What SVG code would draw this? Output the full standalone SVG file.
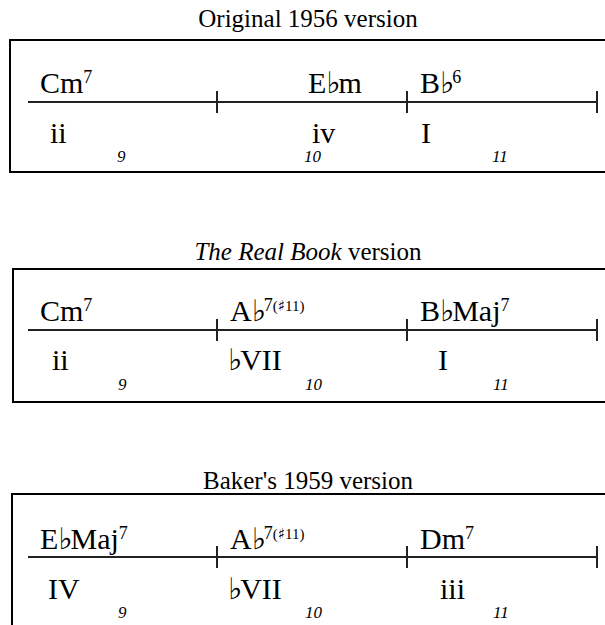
<svg xmlns="http://www.w3.org/2000/svg" width="605" height="625" viewBox="0 0 605 625">
<style>
text{font-family:"Liberation Serif","DejaVu Serif",serif;fill:#000}
.title{font-size:25px;text-anchor:middle}
.ch{font-size:30px}
.rn{font-size:30px}
.num{font-size:17px;font-style:italic}
.sup{font-size:18px}
.sm{font-size:15px}
.fl{font-size:30px;font-family:"DejaVu Serif","DejaVu Sans",serif;letter-spacing:-2px}
.sh{font-family:"DejaVu Serif","DejaVu Sans",serif;font-size:15px}
.box{fill:none;stroke:#000;stroke-width:2}
.bar{stroke:#222;stroke-width:2;fill:none}
</style>
<g id="panel1">
<text class="title" x="308" y="27">Original 1956 version</text>
<rect class="box" x="10" y="40" width="620" height="132"/>
<g class="connectors">
<line class="bar" x1="28" y1="102" x2="598" y2="102"/>
<line class="bar" x1="217" y1="91" x2="217" y2="113"/>
<line class="bar" x1="407" y1="91" x2="407" y2="113"/>
<line class="bar" x1="597" y1="91" x2="597" y2="113"/>
</g>
<g id="p1-chords">
<text class="ch" x="40" y="93">Cm<tspan class="sup" dy="-10">7</tspan></text>
<text class="ch" x="308" y="93">E<tspan class="fl">♭</tspan>m</text>
<text class="ch" x="420" y="93">B<tspan class="fl">♭</tspan><tspan class="sup" dy="-10">6</tspan></text>
</g>
<g id="p1-numerals">
<text class="rn" x="50" y="143">ii</text>
<text class="rn" x="312" y="143">iv</text>
<text class="rn" x="421" y="143">I</text>
</g>
<g id="p1-bars">
<text class="num" x="117" y="162">9</text>
<text class="num" x="304" y="162">10</text>
<text class="num" x="492" y="162">11</text>
</g>
</g>
<g id="panel2">
<text class="title" x="308" y="260"><tspan font-style="italic">The Real Book</tspan> version</text>
<rect class="box" x="13" y="269" width="620" height="133"/>
<g class="connectors">
<line class="bar" x1="28" y1="330" x2="598" y2="330"/>
<line class="bar" x1="217" y1="319" x2="217" y2="341"/>
<line class="bar" x1="407" y1="319" x2="407" y2="341"/>
<line class="bar" x1="597" y1="319" x2="597" y2="341"/>
</g>
<g id="p2-chords">
<text class="ch" x="40" y="321">Cm<tspan class="sup" dy="-10">7</tspan></text>
<text class="ch" x="230" y="321">A<tspan class="fl">♭</tspan><tspan class="sup" dy="-10">7</tspan><tspan class="sm">(<tspan class="sh">♯</tspan>11)</tspan></text>
<text class="ch" x="420" y="321">B<tspan class="fl">♭</tspan>Maj<tspan class="sup" dy="-10">7</tspan></text>
</g>
<g id="p2-numerals">
<text class="rn" x="52" y="370">ii</text>
<text class="rn" x="228" y="370"><tspan class="fl">♭</tspan>VII</text>
<text class="rn" x="438" y="370">I</text>
</g>
<g id="p2-bars">
<text class="num" x="118" y="390">9</text>
<text class="num" x="305" y="390">10</text>
<text class="num" x="493" y="390">11</text>
</g>
</g>
<g id="panel3">
<text class="title" x="308" y="489">Baker's 1959 version</text>
<rect class="box" x="12" y="494" width="620" height="160"/>
<g class="connectors">
<line class="bar" x1="28" y1="557" x2="598" y2="557"/>
<line class="bar" x1="217" y1="546" x2="217" y2="568"/>
<line class="bar" x1="407" y1="546" x2="407" y2="568"/>
<line class="bar" x1="597" y1="546" x2="597" y2="568"/>
</g>
<g id="p3-chords">
<text class="ch" x="40" y="549">E<tspan class="fl">♭</tspan>Maj<tspan class="sup" dy="-10">7</tspan></text>
<text class="ch" x="230" y="549">A<tspan class="fl">♭</tspan><tspan class="sup" dy="-10">7</tspan><tspan class="sm">(<tspan class="sh">♯</tspan>11)</tspan></text>
<text class="ch" x="420" y="549">Dm<tspan class="sup" dy="-10">7</tspan></text>
</g>
<g id="p3-numerals">
<text class="rn" x="48" y="599">IV</text>
<text class="rn" x="228" y="599"><tspan class="fl">♭</tspan>VII</text>
<text class="rn" x="440" y="599">iii</text>
</g>
<g id="p3-bars">
<text class="num" x="118" y="618">9</text>
<text class="num" x="305" y="618">10</text>
<text class="num" x="493" y="618">11</text>
</g>
</g>
</svg>
